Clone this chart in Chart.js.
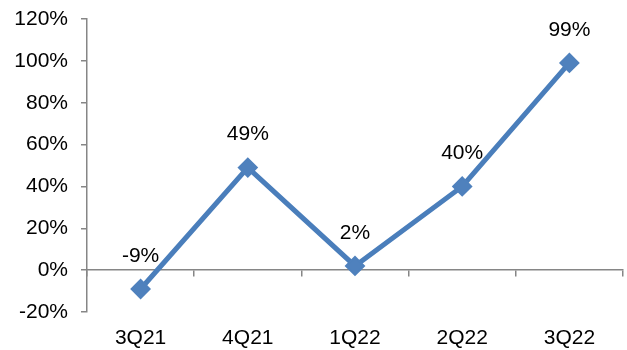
<!DOCTYPE html>
<html>
<head>
<meta charset="utf-8">
<script src="https://cdn.jsdelivr.net/npm/chart.js@4"></script>
<style>
  html, body { margin: 0; padding: 0; background: #fff; overflow: hidden; }
  #wrap { width: 627px; height: 350px; position: relative; }
</style>
</head>
<body>
<div id="wrap"><canvas id="qChart"></canvas></div>
<script>
const quarters = ["3Q21", "4Q21", "1Q22", "2Q22", "3Q22"];
const growth = [-9, 49, 2, 40, 99];
const yTicks = [-20, 0, 20, 40, 60, 80, 100, 120];

const lineBlue = "#4A7EBB";
const axisGray = "#868686";
const font = { family: "'Liberation Sans', Arial, sans-serif", size: 21 };

// value labels above each point
const pointLabels = {
  id: "pointLabels",
  afterDatasetsDraw(c) {
    const ctx = c.ctx;
    const meta = c.getDatasetMeta(0);
    ctx.save();
    ctx.font = font.size + "px " + font.family;
    ctx.fillStyle = "#000";
    ctx.textAlign = "center";
    ctx.textBaseline = "middle";
    meta.data.forEach((pt, i) => {
      ctx.fillText(growth[i] + "%", pt.x, pt.y - 33);
    });
    ctx.restore();
  }
};

new Chart(document.getElementById("qChart"), {
  type: "line",
  data: {
    labels: quarters,
    datasets: [{
      data: growth,
      borderColor: lineBlue,
      borderWidth: 5,
      backgroundColor: "#4F81BD",
      pointStyle: "rectRot",
      pointRadius: 9,
      pointBorderWidth: 2,
      pointBorderColor: "#4F81BD",
      pointBackgroundColor: "#4F81BD",
      tension: 0,
      clip: false,
      xAxisID: "x"
    }]
  },
  options: {
    responsive: true,
    maintainAspectRatio: false,
    animation: false,
    layout: { autoPadding: false, padding: { left: 0, right: 4, top: 19, bottom: 0 } },
    plugins: { legend: { display: false }, tooltip: { enabled: false } },
    scales: {
      x: {
        type: "category",
        offset: true,
        afterFit(s) { s.height = 38; s.paddingLeft = 0; s.paddingRight = 0; },
        grid: { display: false, drawTicks: false },
        border: { display: false },
        ticks: { color: "#000", font: font, padding: 14, maxRotation: 0 }
      },
      x0: {
        type: "category",
        labels: quarters,
        position: { y: 0 },
        offset: true,
        afterFit(s) { s.paddingLeft = 0; s.paddingRight = 0; s.paddingTop = 0; s.paddingBottom = 0; },
        grid: { offset: true, drawOnChartArea: false, drawTicks: true, tickLength: 6, color: axisGray, lineWidth: 1.5 },
        border: { display: true, color: axisGray, width: 1.5 },
        ticks: { display: false }
      },
      y: {
        min: -20,
        max: 120,
        afterBuildTicks(s) { s.ticks = yTicks.map(v => ({ value: v })); },
        afterFit(s) { s.width = 87; s.paddingTop = 0; s.paddingBottom = 0; },
        grid: { drawOnChartArea: false, drawTicks: true, tickLength: 6, color: axisGray, lineWidth: 1.5 },
        border: { display: true, color: axisGray, width: 1.5 },
        ticks: { color: "#000", font: font, padding: 13, callback: v => v + "%" }
      }
    }
  },
  plugins: [pointLabels]
});
</script>
</body>
</html>
